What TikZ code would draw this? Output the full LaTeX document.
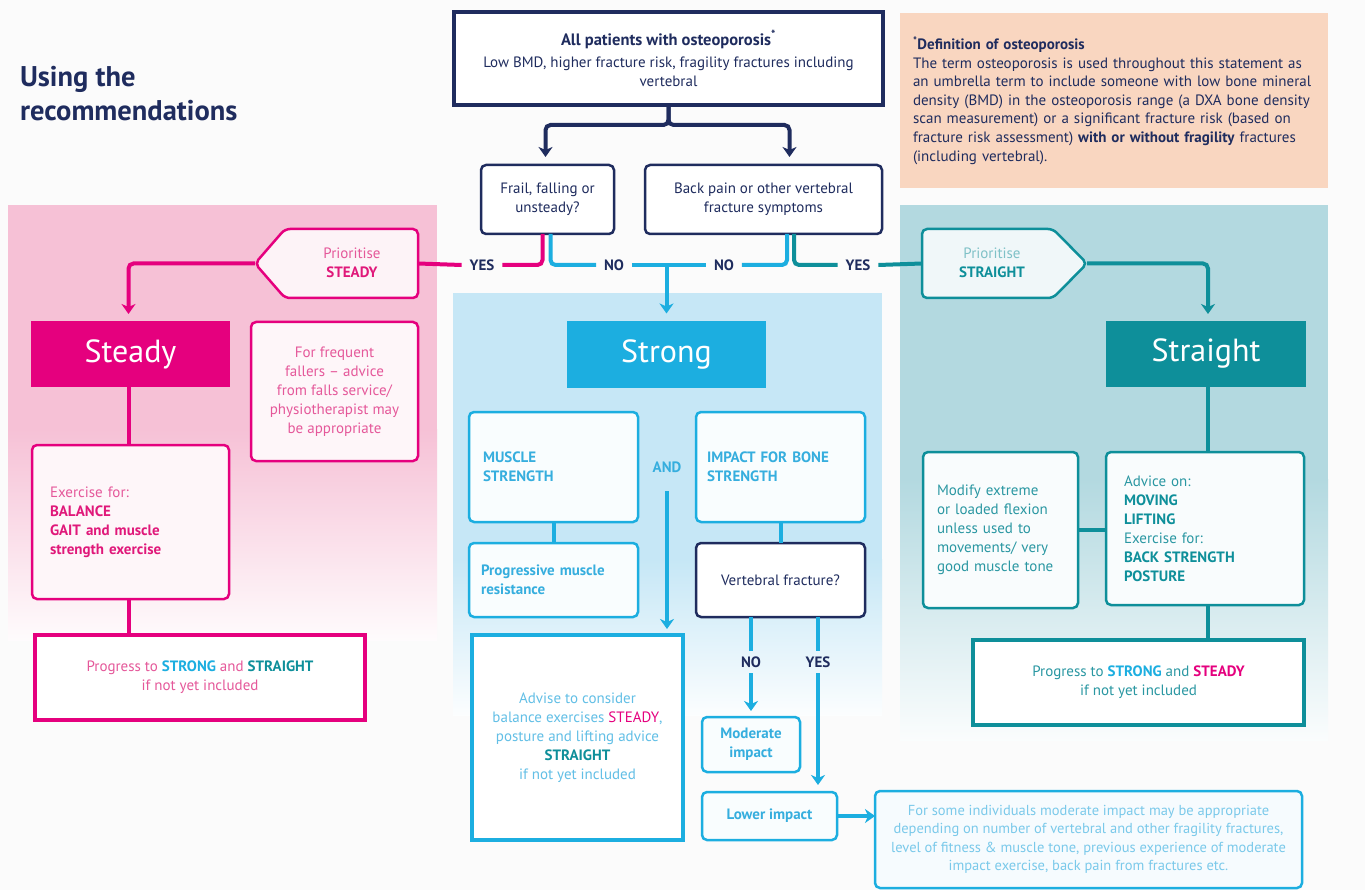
\documentclass[tikz,border=0pt]{standalone}
\usepackage{fontspec}
\setmainfont{PT Sans}
\usetikzlibrary{arrows.meta,calc}
\definecolor{navy}{HTML}{1F2C5E}
\definecolor{magc}{HTML}{E5007E}
\definecolor{pinktxt}{HTML}{E5589A}
\definecolor{pinkbold}{HTML}{E0187A}
\definecolor{cyanc}{HTML}{1CAEE0}
\definecolor{cyantxt}{HTML}{36AEDE}
\definecolor{cyanlight}{HTML}{62BFE6}
\definecolor{tealc}{HTML}{0E8F9A}
\definecolor{tealtxt}{HTML}{2A97A2}
\definecolor{peach}{HTML}{F9D6C0}
\definecolor{pinkbg}{HTML}{F6C1D6}
\definecolor{bluebg}{HTML}{C6E7F6}
\definecolor{tealbg}{HTML}{B3D9E0}
\definecolor{bgc}{HTML}{FBFBFB}
\newcommand{\bodyfont}{\fontsize{15}{19}\selectfont}
\begin{document}
\begin{tikzpicture}[x=1pt,y=-1pt,
  every node/.style={inner sep=0pt, outer sep=0pt},
  conn/.style={line width=4pt, rounded corners=5pt},
  arr/.style={-{Stealth[length=10pt,width=14pt,inset=3pt]}},
  tbox/.style={draw=navy, line width=4.5pt, fill=white, align=center, text=navy, font=\bodyfont},
  qbox/.style={draw=navy, line width=2.5pt, rounded corners=5pt, fill=white, align=center, text=navy, font=\bodyfont},
  lab/.style={font=\bfseries\bodyfont, text=navy, inner xsep=8pt, inner ysep=6pt},
  bigbox/.style={font=\fontsize{32}{36}\selectfont, text=white},
  pbox/.style={draw=magc, line width=2.5pt, rounded corners=5pt, fill=white!85!pinkbg, font=\bodyfont, text=pinktxt},
  bbox/.style={draw=cyanc, line width=2.5pt, rounded corners=5pt, fill=white!90!bluebg, font=\bodyfont, text=cyantxt},
  gbox/.style={draw=tealc, line width=2.5pt, rounded corners=5pt, fill=white!92!tealbg, font=\bodyfont, text=tealtxt},
]
\useasboundingbox (0,0) rectangle (1365,890);
\fill[bgc] (0,0) rectangle (1365,890);
% panels
\fill[pinkbg] (8,205) rectangle (437,430);
\shade[top color=pinkbg, bottom color=white!70!pinkbg!20!white] (8,429) rectangle (437,640);
\fill[bluebg] (453,293) rectangle (882,560);
\shade[top color=bluebg, bottom color=white!60!bluebg!15!white] (453,559) rectangle (882,715);
\fill[tealbg] (900,205) rectangle (1328,480);
\shade[top color=tealbg, bottom color=white!60!tealbg!15!white] (900,479) rectangle (1328,740);
% title
\node[anchor=north west, align=left, text=navy, font=\bfseries\fontsize{28.5}{34}\selectfont] (title) at (20,66) {Using the\\recommendations};
% definition
\node[anchor=north west, fill=peach, minimum width=428, minimum height=175, text width=402, inner xsep=13pt, align=left, text=navy, font=\fontsize{15}{18.6}\selectfont] (def) at (900,13)
 {{\bfseries\textsuperscript{*}Definition of osteoporosis}\\
 The term osteoporosis is used throughout this statement as an umbrella term to include someone with low bone mineral density (BMD) in the osteoporosis range (a DXA bone density scan measurement) or a significant fracture risk (based on fracture risk assessment) \textbf{with or without fragility} fractures (including vertebral).};
% top
\node[tbox, minimum width=429, minimum height=93] (top) at (668.5,58.5)
 {{\bfseries\fontsize{16.5}{20}\selectfont All patients with osteoporosis\textsuperscript{*}}\\[3pt]
  Low BMD, higher fracture risk, fragility fractures including\\ vertebral};
\node[qbox, minimum width=133, minimum height=69] (frail) at (547.5,199.5) {Frail, falling or\\unsteady?};
\node[qbox, minimum width=237, minimum height=69] (bp) at (763.5,199.5) {Back pain or other vertebral\\fracture symptoms};
\draw[conn,navy,arr] (top.south) -- ++(0,20) -| ($(frail.north)+(-2,-8)$);
\draw[conn,navy,arr] (top.south) -- ++(0,20) -| ($(bp.north)+(26,-8)$);
% YES/NO labels
\node[lab] (yes1) at (482,265) {YES};
\node[lab] (no1) at (614,265) {NO};
\node[lab] (no2) at (724,265) {NO};
\node[lab] (yes2) at (858,265) {YES};
% prioritise shapes
\draw[magc, line width=2.5pt, rounded corners=5pt, fill=white!80!pinkbg] (255,263.5) -- (285,229) -- (418,229) -- (418,298) -- (285,298) -- cycle;
\coordinate (prioSL) at (255,263.5);
\coordinate (prioSR) at (418,263.5);
\node[align=center, text=pinktxt, font=\bodyfont] (prioS) at (352,263) {Prioritise\\\textcolor{pinkbold}{\bfseries STEADY}};
\draw[tealc, line width=2.5pt, rounded corners=5pt, fill=white!80!tealbg] (1087,263.5) -- (1053,229) -- (922,229) -- (922,298) -- (1053,298) -- cycle;
\coordinate (prioTL) at (922,263.5);
\coordinate (prioTR) at (1087,263.5);
\node[align=center, text=tealtxt!60!white, font=\bodyfont] (prioT) at (992,263) {Prioritise\\\textcolor{tealc}{\bfseries STRAIGHT}};
% big boxes
\node[bigbox, fill=magc, minimum width=199, minimum height=66] (steady) at (130.5,354) {Steady};
\node[bigbox, fill=cyanc, minimum width=199, minimum height=66] (strong) at (666.5,354.5) {Strong};
\node[bigbox, fill=tealc, minimum width=200, minimum height=66] (straight) at (1206,354) {Straight};
% branch connectors
\draw[conn,magc] ($(frail.south)+(-5,0)$) |- (yes1.east);
\draw[conn,magc] (yes1.west) -- (prioSR);
\draw[conn,cyanc] ($(frail.south)+(3,0)$) |- (no1.west);
\draw[conn,cyanc] (no1.east) -- (no2.west);
\draw[conn,cyanc] ($(bp.south)+(23.5,0)$) |- (no2.east);
\draw[conn,cyanc,arr] (no1.east -| strong.north) -- ($(strong.north)+(0,-8)$);
\draw[conn,tealc] ($(bp.south)+(30.5,0)$) |- (yes2.west);
\draw[conn,tealc] (yes2.east) -- (prioTL);
\draw[conn,magc,arr] (prioSL) -| ($(steady.north)+(-2,-7)$);
\draw[conn,tealc,arr] (prioTR) -| ($(straight.north)+(2,-7)$);
% steady panel
\node[pbox, minimum width=167, minimum height=139, align=center] (fall) at (334.5,391.5) {For frequent\\fallers -- advice\\from falls service/\\physiotherapist may\\be appropriate};
\node[pbox, minimum width=197, minimum height=154, text width=161, align=left] (exer) at (130.5,522)
 {Exercise for:\\\textcolor{pinkbold}{\bfseries BALANCE}\\\textcolor{pinkbold}{\bfseries GAIT and muscle}\\\textcolor{pinkbold}{\bfseries strength exercise}};
\node[draw=magc, line width=4.5pt, fill=white, minimum width=330, minimum height=85, align=center, font=\bodyfont, text=pinktxt] (progL) at (200,677.5)
 {Progress to \textcolor{cyanc}{\bfseries STRONG} and \textcolor{tealc}{\bfseries STRAIGHT}\\if not yet included};
\draw[conn,magc] ($(steady.south)+(-2,0)$) -- ($(exer.north)+(-2,0)$);
\draw[conn,magc] ($(exer.south)+(-2,0)$) -- ($(exer.south |- progL.north)+(-2,0)$);
% strong panel
\node[bbox, minimum width=169, minimum height=110, text width=141, align=left, font=\bfseries\bodyfont] (muscle) at (553.5,467) {MUSCLE\\STRENGTH};
\node[font=\bfseries\bodyfont, text=cyantxt] (and) at (667,467) {AND};
\node[bbox, minimum width=169, minimum height=110, text width=147, align=left, font=\bfseries\bodyfont] (impact) at (780.5,467) {IMPACT FOR BONE\\STRENGTH};
\node[bbox, minimum width=169, minimum height=74, text width=145, align=left, font=\bfseries\bodyfont] (progm) at (553.5,580) {Progressive muscle\\resistance};
\node[qbox, minimum width=169, minimum height=74] (vert) at (780.5,580) {Vertebral fracture?};
\draw[conn,cyanc] (muscle.south) -- (progm.north);
\draw[conn,cyanc] (impact.south) -- (vert.north);
\node[draw=cyanc, line width=4.5pt, fill=white, minimum width=211, minimum height=205, align=center, font=\bodyfont, text=cyanlight] (advise) at (577.5,737.5)
 {Advise to consider\\balance exercises \textcolor{magc}{STEADY},\\posture and lifting advice\\\textcolor{tealc}{\bfseries STRAIGHT}\\if not yet included};
\draw[conn,cyanc,arr] ($(and.south)+(0,19)$) -- ($(advise.north -| and.south)+(0,-6)$);
\node[bbox, minimum width=98, minimum height=55, align=center, font=\bfseries\bodyfont] (moderate) at (751,744.5) {Moderate\\impact};
\node[bbox, minimum width=135, minimum height=48, align=center, font=\bfseries\bodyfont] (lower) at (769.5,816) {Lower impact};
\node[lab] (no3) at (751,662) {NO};
\node[lab] (yes3) at (818,662) {YES};
\draw[conn,cyanc] (vert.south -| no3) -- (no3.north);
\draw[conn,cyanc,arr] (no3.south) -- ($(moderate.north)+(0,-6)$);
\draw[conn,cyanc] (vert.south -| yes3) -- (yes3.north);
\draw[conn,cyanc,arr] (yes3.south) -- ($(yes3 |- lower.north)+(0,-7)$);
\node[draw=cyanc, line width=2.5pt, rounded corners=5pt, fill=white!85!bluebg, minimum width=427, minimum height=97, align=center, font=\fontsize{14.5}{18.5}\selectfont, text=cyanlight!85!white] (forsome) at (1088.5,839.5)
 {For some individuals moderate impact may be appropriate\\depending on number of vertebral and other fragility fractures,\\level of fitness \& muscle tone, previous experience of moderate\\impact exercise, back pain from fractures etc.};
\draw[conn,cyanc,arr] (lower.east) -- (lower.east -| forsome.west);
% straight panel
\node[gbox, minimum width=155, minimum height=156, text width=127, align=left] (modify) at (1000.5,530)
 {Modify extreme\\or loaded flexion\\unless used to\\movements/ very\\good muscle tone};
\node[gbox, minimum width=198, minimum height=153, text width=162, align=left] (advice) at (1205,528.5)
 {Advice on:\\\textcolor{tealc}{\bfseries MOVING}\\\textcolor{tealc}{\bfseries LIFTING}\\Exercise for:\\\textcolor{tealc}{\bfseries BACK STRENGTH}\\\textcolor{tealc}{\bfseries POSTURE}};
\node[draw=tealc, line width=4.5pt, fill=white, minimum width=331, minimum height=85, align=center, font=\bodyfont, text=tealtxt] (progR) at (1138.5,682.5)
 {Progress to \textcolor{cyanc}{\bfseries STRONG} and \textcolor{magc}{\bfseries STEADY}\\if not yet included};
\draw[conn,tealc] ($(straight.south)+(2,0)$) -- ($(advice.north)+(3,0)$);
\draw[conn,tealc] (modify.east) -- (modify.east -| advice.west);
\draw[conn,tealc] ($(advice.south)+(3,0)$) -- ($(advice.south |- progR.north)+(3,0)$);
\end{tikzpicture}
\end{document}
